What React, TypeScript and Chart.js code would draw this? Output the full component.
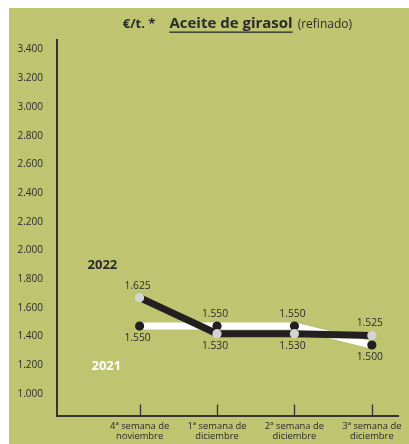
import React, { useEffect, useRef } from "react";
import { Chart, registerables } from "chart.js";

Chart.register(...registerables);

const CATEGORY_LINES = [
  ["4ª semana de", "noviembre"],
  ["1ª semana de", "diciembre"],
  ["2ª semana de", "diciembre"],
  ["3ª semana de", "diciembre"],
];
const SERIES_NAMES = ["2022", "2021"];
const VALUES_2022 = [1625, 1530, 1530, 1525];
const VALUES_2021 = [1550, 1550, 1550, 1500];
const Y_TICKS = [1000, 1200, 1400, 1600, 1800, 2000, 2200, 2400, 2600, 2800, 3000, 3200, 3400];
const LABEL_SIDE_2022 = ["above", "below", "below", "above"];
const LABEL_SIDE_2021 = ["below", "above", "above", "below"];
const TITLE_UNIT = "€/t. *";
const TITLE_MAIN = "Aceite de girasol";
const TITLE_SUB = "(refinado)";

const FONT = "'Open Sans', 'Noto Sans', sans-serif";
const TEXT = "#2a2a2a";
const BG = "#bec470";
const DARK = "#231f20";

const fmt = (v: number) => Math.floor(v / 1000) + "." + String(v % 1000).padStart(3, "0");

const decoPlugin = {
  id: "deco",
  afterDatasetsDraw(chart: any) {
    const ctx = chart.ctx;
    const xs = chart.scales.x;
    const ys = chart.scales.y;
    const sides = [LABEL_SIDE_2022, LABEL_SIDE_2021];
    ctx.save();
    ctx.font = `10.3px ${FONT}`;
    ctx.fillStyle = TEXT;
    ctx.textAlign = "center";
    ctx.textBaseline = "middle";
    chart.data.datasets.forEach((ds: any, di: number) => {
      const meta = chart.getDatasetMeta(di);
      meta.data.forEach((pt: any, i: number) => {
        const off = sides[di][i] === "above" ? -12 : 12;
        ctx.fillText(fmt(ds.data[i].y), pt.x - 2, pt.y + off);
      });
    });
    // series names
    ctx.font = `bold 13px ${FONT}`;
    ctx.fillStyle = TEXT;
    ctx.fillText(SERIES_NAMES[0], xs.getPixelForValue(-0.48), ys.getPixelForValue(1711));
    ctx.fillStyle = "#ffffff";
    ctx.fillText(SERIES_NAMES[1], xs.getPixelForValue(-0.43), ys.getPixelForValue(1443));
    ctx.restore();
  },
  afterDraw(chart: any) {
    const ctx = chart.ctx;
    const xs = chart.scales.x;
    const area = chart.chartArea;
    ctx.save();
    // x tick marks pointing up
    ctx.strokeStyle = "#333333";
    ctx.lineWidth = 1.3;
    CATEGORY_LINES.forEach((_, i) => {
      const px = Math.round(xs.getPixelForValue(i)) + 0.5;
      ctx.beginPath();
      ctx.moveTo(px, area.bottom);
      ctx.lineTo(px, area.bottom - 11);
      ctx.stroke();
    });
    // title
    const y = 16;
    ctx.textBaseline = "middle";
    ctx.textAlign = "left";
    ctx.fillStyle = TEXT;
    const f1 = `bold 13px ${FONT}`;
    const f2 = `bold 15px ${FONT}`;
    const f3 = `12px ${FONT}`;
    ctx.font = f1;
    const w1 = ctx.measureText(TITLE_UNIT).width;
    ctx.font = f2;
    const w2 = ctx.measureText(TITLE_MAIN).width;
    ctx.font = f3;
    const w3 = ctx.measureText(TITLE_SUB).width;
    const gap1 = 14;
    const gap2 = 5;
    const total = w1 + gap1 + w2 + gap2 + w3;
    let x = 228.4 - total / 2;
    ctx.font = f1;
    ctx.fillText(TITLE_UNIT, x, y);
    x += w1 + gap1;
    ctx.font = f2;
    ctx.fillText(TITLE_MAIN, x, y);
    ctx.fillRect(x, 23.5, w2, 1.3);
    x += w2 + gap2;
    ctx.font = f3;
    ctx.fillText(TITLE_SUB, x, y + 1);
    ctx.restore();
  },
};

export default function App() {
  const ref = useRef<HTMLCanvasElement>(null);
  useEffect(() => {
    if (!ref.current) return;
    const chart = new Chart(ref.current, {
      type: "line",
      data: {
        datasets: [
          {
            label: SERIES_NAMES[0],
            data: VALUES_2022.map((y, i) => ({ x: i, y })),
            borderColor: DARK,
            borderWidth: 7,
            pointRadius: 4.6,
            pointBackgroundColor: "#d4d4d4",
            pointBorderWidth: 0,
            tension: 0,
            xAxisID: "x",
            yAxisID: "y",
          },
          {
            label: SERIES_NAMES[1],
            data: VALUES_2021.map((y, i) => ({ x: i, y })),
            borderColor: "#ffffff",
            borderWidth: 7,
            pointRadius: 4.6,
            pointBackgroundColor: DARK,
            pointBorderWidth: 0,
            tension: 0,
            xAxisID: "x",
            yAxisID: "y",
          },
        ],
      },
      options: {
        responsive: false,
        animation: false,
        devicePixelRatio: 1,
        clip: false as any,
        layout: { padding: { top: 32, right: 11, left: 0, bottom: 0 } },
        plugins: {
          legend: { display: false },
          tooltip: { enabled: false },
          title: { display: false },
        },
        scales: {
          x: {
            type: "linear",
            min: -1.067,
            max: 3.338,
            afterBuildTicks: (s: any) => {
              s.ticks = CATEGORY_LINES.map((_, i) => ({ value: i }));
            },
            afterFit: (s: any) => {
              s.height = 28.5;
            },
            grid: { display: true, drawOnChartArea: false, drawTicks: false },
            border: { display: true, color: "#333333", width: 2 },
            ticks: {
              autoSkip: false,
              maxRotation: 0,
              padding: 6,
              color: TEXT,
              font: { family: FONT, size: 9.4, lineHeight: 1.08 },
              callback: (v: any) => CATEGORY_LINES[Math.round(Number(v))] || "",
            },
          },
          y2: {
            type: "linear",
            position: "left",
            min: 850,
            max: 3467,
            afterBuildTicks: (s: any) => {
              s.ticks = Y_TICKS.map((v) => ({ value: v }));
            },
            afterFit: (s: any) => {
              s.width = 48;
            },
            grid: { display: true, drawOnChartArea: false, drawTicks: false },
            border: { display: true, color: "#333333", width: 2 },
            ticks: {
              padding: 14,
              color: TEXT,
              font: { family: FONT, size: 10 },
              callback: (v: any) => fmt(Number(v)),
            },
          },
          y: {
            type: "linear",
            display: false,
            min: 1314,
            max: 2305,
          },
        },
      } as any,
      plugins: [decoPlugin],
    });
    return () => chart.destroy();
  }, []);
  return (
    <div
      style={{
        position: "fixed",
        left: 9,
        top: 8,
        width: 400,
        height: 436,
        background: BG,
      }}
    >
      <canvas ref={ref} width={400} height={436} style={{ display: "block", width: 400, height: 436 }} />
    </div>
  );
}
